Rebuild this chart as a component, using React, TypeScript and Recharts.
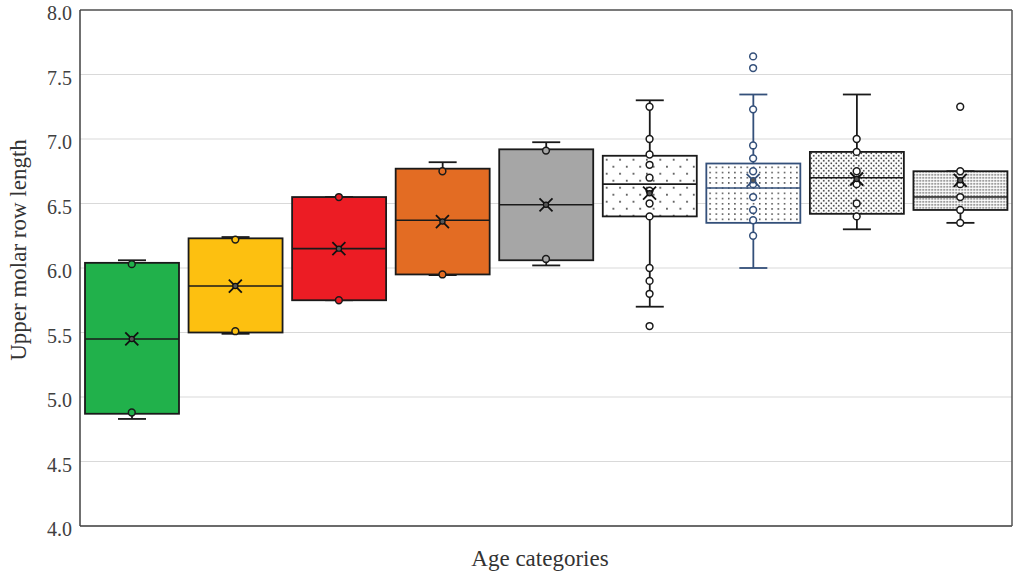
import React from 'react';
import { ComposedChart, Bar, Scatter, XAxis, YAxis, CartesianGrid } from 'recharts';

// ---- data ----
const categories = ['1', '2', '3', '4', '5', '6', '7', '8', '9'];
const q1 = [4.87, 5.5, 5.75, 5.95, 6.06, 6.4, 6.35, 6.42, 6.45];
const median = [5.45, 5.86, 6.15, 6.37, 6.49, 6.65, 6.62, 6.7, 6.55];
const q3 = [6.04, 6.23, 6.55, 6.77, 6.92, 6.87, 6.81, 6.9, 6.75];
const whiskerLow = [4.83, 5.49, 5.75, 5.945, 6.02, 5.7, 6.0, 6.3, 6.35];
const whiskerHigh = [6.06, 6.24, 6.55, 6.82, 6.975, 7.3, 7.345, 7.345, 6.75];
const means = [5.45, 5.86, 6.15, 6.36, 6.49, 6.58, 6.68, 6.69, 6.68];
const observations: number[][] = [
  [6.03, 4.88],
  [6.22, 5.51],
  [6.55, 5.75],
  [6.75, 5.95],
  [6.91, 6.07],
  [7.25, 7.0, 6.88, 6.8, 6.7, 6.6, 6.5, 6.4, 6.0, 5.9, 5.8, 5.55],
  [7.64, 7.55, 7.23, 6.95, 6.85, 6.75, 6.65, 6.55, 6.45, 6.37, 6.25],
  [7.0, 6.9, 6.75, 6.65, 6.5, 6.4],
  [7.25, 6.75, 6.65, 6.55, 6.45, 6.35],
];
const yTicks = [4.0, 4.5, 5.0, 5.5, 6.0, 6.5, 7.0, 7.5, 8.0];

// ---- styles ----
type BoxStyle = { fill: string; stroke: string; pattern?: { w: number; h: number; r: number; stagger: boolean } };
const boxStyles: BoxStyle[] = [
  { fill: '#21b14b', stroke: '#1a1a1a' },
  { fill: '#fdc010', stroke: '#1a1a1a' },
  { fill: '#ec1c24', stroke: '#1a1a1a' },
  { fill: '#e36c23', stroke: '#1a1a1a' },
  { fill: '#a6a6a6', stroke: '#1a1a1a' },
  { fill: '#ffffff', stroke: '#1a1a1a', pattern: { w: 13.4, h: 14, r: 0.9, stagger: true } },
  { fill: '#ffffff', stroke: '#34507a', pattern: { w: 6.2, h: 5.2, r: 0.8, stagger: false } },
  { fill: '#ffffff', stroke: '#1a1a1a', pattern: { w: 5, h: 5, r: 0.85, stagger: true } },
  { fill: '#ffffff', stroke: '#1a1a1a', pattern: { w: 3, h: 3, r: 0.8, stagger: false } },
];

const FONT = '"Liberation Serif", "Times New Roman", serif';

const boxData = categories.map((cat, i) => ({
  cat,
  i,
  q1: q1[i],
  median: median[i],
  q3: q3[i],
  wLow: whiskerLow[i],
  wHigh: whiskerHigh[i],
}));

const pointData = categories.flatMap((cat, i) => observations[i].map((v) => ({ cat, v, i })));
const meanData = categories.map((cat, i) => ({ cat, v: means[i], i }));

const BoxShape = (props: any) => {
  const { x, y, width, height, payload } = props;
  const d = payload;
  const top = Math.min(y, y + height);
  const h = Math.abs(height);
  const k = h / (d.q3 - d.q1);
  const py = (v: number) => top + (d.q3 - v) * k;
  const cx = x + width / 2;
  const st = boxStyles[d.i];
  const capW = 28;
  const pid = `boxpat-${d.i}`;
  const p = st.pattern;
  return (
    <g>
      {p && (
        <defs>
          <pattern id={pid} patternUnits="userSpaceOnUse" width={p.w} height={p.h} x={x + 3} y={top + 3}>
            <rect width={p.w} height={p.h} fill="#ffffff" />
            <circle cx={p.r} cy={p.r} r={p.r} fill="#222" />
            {p.stagger && <circle cx={p.w / 2 + p.r} cy={p.h / 2 + p.r} r={p.r} fill="#222" />}
          </pattern>
        </defs>
      )}
      <line x1={cx} x2={cx} y1={py(d.wHigh)} y2={top} stroke={st.stroke} strokeWidth={1.8} />
      <line x1={cx} x2={cx} y1={top + h} y2={py(d.wLow)} stroke={st.stroke} strokeWidth={1.8} />
      <line x1={cx - capW / 2} x2={cx + capW / 2} y1={py(d.wHigh)} y2={py(d.wHigh)} stroke={st.stroke} strokeWidth={1.8} />
      <line x1={cx - capW / 2} x2={cx + capW / 2} y1={py(d.wLow)} y2={py(d.wLow)} stroke={st.stroke} strokeWidth={1.8} />
      <rect x={x} y={top} width={width} height={h} fill={p ? `url(#${pid})` : st.fill} stroke={st.stroke} strokeWidth={1.8} />
      <line x1={x} x2={x + width} y1={py(d.median)} y2={py(d.median)} stroke={st.stroke} strokeWidth={1.6} />
    </g>
  );
};

const PointShape = (props: any) => {
  const { cx, cy, payload } = props;
  const st = boxStyles[payload.i];
  return <circle cx={cx} cy={cy} r={3.4} fill={st.pattern ? '#ffffff' : st.fill} stroke={st.stroke} strokeWidth={1.5} />;
};

const MeanShape = (props: any) => {
  const { cx, cy, payload } = props;
  const st = boxStyles[payload.i];
  const s = 6.5;
  return (
    <g stroke={st.stroke === '#1a1a1a' ? '#111' : st.stroke} strokeWidth={1.8}>
      <line x1={cx - s} y1={cy - s} x2={cx + s} y2={cy + s} />
      <line x1={cx - s} y1={cy + s} x2={cx + s} y2={cy - s} />
      <circle cx={cx} cy={cy} r={2.6} fill="#555" strokeWidth={1.2} />
    </g>
  );
};

const YTick = (props: any) => {
  const { x, y, payload } = props;
  return (
    <text x={x} y={y + 3} textAnchor="end" dominantBaseline="central" fontFamily={FONT} fontSize={20} fill="#404040">
      {Number(payload.value).toFixed(1)}
    </text>
  );
};

const YLabel = (props: any) => {
  const vb = props.viewBox || {};
  const cy = (vb.y ?? 10) + (vb.height ?? 516) / 2 - 18;
  const cx = 18;
  return (
    <text x={cx} y={cy} transform={`rotate(-90, ${cx}, ${cy})`} textAnchor="middle" dominantBaseline="central" fontFamily={FONT} fontSize={23} fill="#333">
      Upper molar row length
    </text>
  );
};

const XLabel = (props: any) => {
  const vb = props.viewBox || {};
  const cx = (vb.x ?? 80) + (vb.width ?? 932) / 2 - 6;
  return (
    <text x={cx} y={558} textAnchor="middle" dominantBaseline="central" fontFamily={FONT} fontSize={23} fill="#333">
      Age categories
    </text>
  );
};

export default function App() {
  return (
    <div style={{ position: 'absolute', left: 0, top: 0, width: 1014, height: 573, background: '#fff' }}>
      <ComposedChart width={1014} height={573} data={boxData} margin={{ top: 9, right: 1, left: 0, bottom: 0 }}>
        <CartesianGrid vertical={false} stroke="#d9d9d9" strokeWidth={1.2} />
        <XAxis dataKey="cat" type="category" allowDuplicatedCategory={false} tick={false} tickLine={false} height={47} axisLine={{ stroke: '#404040', strokeWidth: 1.5 }} label={<XLabel />} />
        <XAxis xAxisId="top" dataKey="cat" type="category" allowDuplicatedCategory={false} orientation="top" tick={false} tickLine={false} height={1} axisLine={{ stroke: '#555', strokeWidth: 1.5 }} />
        <YAxis
          type="number"
          domain={[4, 8]}
          ticks={yTicks}
          interval={0}
          width={80}
          tickLine={false}
          axisLine={{ stroke: '#404040', strokeWidth: 1.5 }}
          tick={<YTick />}
          label={<YLabel />}
        />
        <YAxis yAxisId="right" orientation="right" type="number" domain={[4, 8]} tick={false} tickLine={false} width={1} axisLine={{ stroke: '#555', strokeWidth: 1.5 }} />
        <Bar dataKey={(d: any) => [d.q1, d.q3]} barSize={94} shape={<BoxShape />} isAnimationActive={false} />
        <Scatter data={pointData} dataKey="v" shape={<PointShape />} isAnimationActive={false} />
        <Scatter data={meanData} dataKey="v" shape={<MeanShape />} isAnimationActive={false} />
      </ComposedChart>
    </div>
  );
}
